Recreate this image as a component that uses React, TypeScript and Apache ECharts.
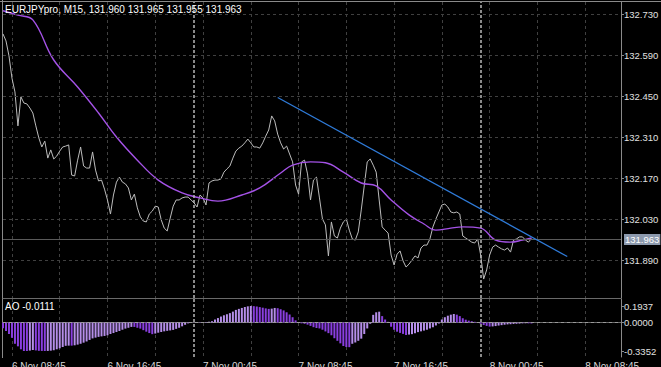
import React, { useEffect, useRef } from "react";
import * as echarts from "echarts";

const closeVals = [
  132.662, 132.638, 132.587, 132.511, 132.464, 132.348, 132.447, 132.426, 132.423, 132.409,
  132.392, 132.348, 132.307, 132.276, 132.296, 132.238, 132.266, 132.235, 132.245, 132.262,
  132.276, 132.279, 132.283, 132.180, 132.177, 132.231, 132.276, 132.211, 132.204, 132.204,
  132.259, 132.197, 132.160, 132.163, 132.132, 132.095, 132.047, 132.112, 132.156, 132.173,
  132.156, 132.150, 132.136, 132.095, 132.115, 132.068, 132.037, 132.023, 132.020, 132.047,
  132.057, 132.074, 132.071, 132.027, 131.999, 131.989, 132.033, 132.074, 132.095, 132.095,
  132.102, 132.105, 132.105, 132.095, 132.085, 132.071, 132.112, 132.102, 132.078, 132.153,
  132.160, 132.163, 132.163, 132.167, 132.190, 132.201, 132.211, 132.238, 132.262, 132.272,
  132.279, 132.290, 132.303, 132.290, 132.276, 132.276, 132.272, 132.290, 132.313, 132.334,
  132.382, 132.365, 132.320, 132.290, 132.269, 132.279, 132.252, 132.225, 132.146, 132.115,
  132.225, 132.231, 132.184, 132.095, 132.163, 132.173, 132.102, 132.030, 132.010, 131.904,
  132.020, 131.972, 131.965, 131.999, 132.020, 132.030, 131.992, 131.962, 131.958, 131.986,
  132.061, 132.143, 132.225, 132.235, 132.214, 132.190, 132.095, 132.003, 131.992, 131.982,
  131.907, 131.873, 131.910, 131.921, 131.887, 131.866, 131.876, 131.890, 131.904, 131.897,
  131.931, 131.941, 131.941, 131.962, 132.003, 132.030, 132.054, 132.078, 132.081, 132.071,
  132.054, 132.051, 132.054, 132.047, 131.972, 131.965, 131.958, 131.951, 131.948, 131.962,
  131.907, 131.825, 131.856, 131.907, 131.934, 131.941, 131.934, 131.928, 131.924, 131.931,
  131.917, 131.958, 131.962, 131.969, 131.969, 131.958, 131.951, 131.963,
];

const maIdx = [0, 5, 10, 17, 25, 32, 38, 45, 52, 60, 66, 72, 80, 86, 93, 97, 103, 108, 114, 120, 125, 130, 136, 141, 145, 150, 154, 160, 165, 170, 174, 177];
const maVals = [132.741, 132.726, 132.710, 132.573, 132.481, 132.392, 132.310, 132.231, 132.163, 132.119, 132.102, 132.091, 132.112, 132.136, 132.187, 132.214, 132.225, 132.222, 132.190, 132.153, 132.143, 132.095, 132.044, 132.013, 131.992, 131.999, 132.003, 131.999, 131.958, 131.951, 131.958, 131.965];

const aoVals = [
  -0.068, -0.1, -0.135, -0.18, -0.25, -0.28, -0.315, -0.335, -0.3352, -0.33,
  -0.323, -0.328, -0.333, -0.334, -0.335, -0.334, -0.331, -0.326, -0.315, -0.303,
  -0.288, -0.274, -0.272, -0.272, -0.268, -0.26, -0.25, -0.237, -0.223, -0.205,
  -0.187, -0.178, -0.169, -0.163, -0.158, -0.15, -0.135, -0.124, -0.112, -0.1,
  -0.085, -0.072, -0.062, -0.052, -0.052, -0.062, -0.072, -0.09, -0.108, -0.124,
  -0.137, -0.13, -0.12, -0.112, -0.104, -0.098, -0.093, -0.087, -0.075, -0.062,
  -0.045, -0.027, -0.01, -0.004, -0.002, 0.002, -0.003, 0.003, 0.005, 0.008,
  0.015, 0.035, 0.052, 0.07, 0.085, 0.097, 0.11, 0.128, 0.148, 0.16,
  0.171, 0.182, 0.19, 0.1937, 0.192, 0.188, 0.181, 0.174, 0.166, 0.16,
  0.163, 0.171, 0.168, 0.156, 0.142, 0.12, 0.094, 0.062, 0.025, -0.005,
  -0.01, -0.015, -0.025, -0.04, -0.055, -0.065, -0.07, -0.085, -0.105, -0.125,
  -0.15, -0.185, -0.215, -0.245, -0.276, -0.288, -0.29, -0.25, -0.235, -0.215,
  -0.19, -0.135, -0.07, -0.015, 0.09, 0.12, 0.127, 0.075, 0.035, 0.008,
  -0.05, -0.085, -0.108, -0.122, -0.134, -0.147, -0.142, -0.137, -0.125, -0.113,
  -0.104, -0.095, -0.085, -0.07, -0.056, -0.035, -0.012, 0.035, 0.062, 0.08,
  0.092, 0.1, 0.092, 0.075, 0.05, 0.033, 0.022, 0.015, 0.008, 0.002,
  -0.015, -0.03, -0.04, -0.048, -0.046, -0.042, -0.036, -0.031, -0.026, -0.022,
  -0.02, -0.017, -0.015, -0.013, -0.01, -0.009, -0.01, -0.0111,
];

const trendIdx = [92, 189];
const trendVals = [132.445, 131.902];

const priceTicks = [131.89, 132.03, 132.17, 132.31, 132.45, 132.59, 132.73];
const aoTicks = [-0.3352, 0, 0.1937];
const bidPrice = 131.963;
const daySeparators = [64, 160];
const titleText = "EURJPYpro, M15, 131.960 131.965 131.955 131.963";
const aoText = "AO -0.0111";

const SLOT_COUNT = 208;
const categories: string[] = [];
for (let i = 0; i < SLOT_COUNT; i++) {
  const total = 8 * 60 + 15 * i;
  const day = 6 + Math.floor(total / 1440);
  const rem = total % 1440;
  const hh = String(Math.floor(rem / 60)).padStart(2, "0");
  const mm = String(rem % 60).padStart(2, "0");
  categories.push(`${day} Nov ${hh}:${mm}`);
}

const FONT = "'Liberation Sans', Arial, sans-serif";

export default function App() {
  const ref = useRef<HTMLDivElement>(null);
  useEffect(() => {
    if (!ref.current) return;
    const chart = echarts.init(ref.current, undefined, { renderer: "svg" });
    const gridSplit = {
      show: true,
      interval: (i: number) => i % 16 === 3,
      lineStyle: { color: "#404040", type: [3, 3] as any, width: 1 },
    };
    const aoData = aoVals.map((v, i) => ({
      value: v,
      itemStyle: { color: i > 0 && v > aoVals[i - 1] ? "#b58ee9" : "#8a3fe0" },
    }));
    const option: any = {
      animation: false,
      backgroundColor: "#000000",
      textStyle: { fontFamily: FONT },
      grid: [
        { left: 3, right: 40, top: 2, height: 296, outerBoundsMode: "none" },
        { left: 3, right: 40, top: 299, height: 58, outerBoundsMode: "none" },
      ],
      xAxis: [
        {
          type: "category",
          gridIndex: 0,
          data: categories,
          boundaryGap: false,
          axisLine: { show: true, lineStyle: { color: "#6a6a6a" } },
          axisTick: { show: false },
          axisLabel: { show: false },
          splitLine: gridSplit,
        },
        {
          type: "category",
          gridIndex: 1,
          data: categories,
          boundaryGap: false,
          axisLine: { show: true, lineStyle: { color: "#6a6a6a" } },
          axisTick: { show: false },
          axisLabel: {
            show: true,
            interval: (i: number) => i % 32 === 3,
            align: "left",
            color: "#d8d8d8",
            fontSize: 10,
            fontFamily: FONT,
            margin: 4,
          },
          splitLine: gridSplit,
        },
      ],
      yAxis: [
        {
          type: "value",
          gridIndex: 0,
          position: "right",
          min: 131.7603,
          max: 132.771,
          axisLine: { show: true, lineStyle: { color: "#8a8a8a" } },
          axisTick: { show: true, length: 3, customValues: priceTicks, lineStyle: { color: "#8a8a8a" } },
          axisLabel: {
            show: true,
            customValues: priceTicks,
            formatter: (v: number) => v.toFixed(3),
            color: "#e0e0e0",
            fontSize: 9.5,
            fontFamily: FONT,
            margin: 3,
          },
          splitLine: { show: false },
        },
        {
          type: "value",
          gridIndex: 1,
          position: "right",
          min: -0.4054,
          max: 0.2761,
          axisLine: { show: true, lineStyle: { color: "#8a8a8a" } },
          axisTick: { show: true, length: 3, customValues: aoTicks, lineStyle: { color: "#8a8a8a" } },
          axisLabel: {
            show: true,
            customValues: aoTicks,
            formatter: (v: number) => v.toFixed(4),
            color: "#e0e0e0",
            fontSize: 9.5,
            fontFamily: FONT,
            margin: 3,
          },
          splitLine: { show: false },
        },
      ],
      series: [
        {
          name: "hgrid",
          type: "line",
          xAxisIndex: 0,
          yAxisIndex: 0,
          data: [],
          z: 1,
          silent: true,
          markLine: {
            silent: true,
            symbol: "none",
            label: { show: false },
            lineStyle: { color: "#404040", type: [3, 3], width: 1 },
            data: priceTicks.map((v) => ({ yAxis: v })),
          },
        },
        {
          name: "close",
          type: "line",
          xAxisIndex: 0,
          yAxisIndex: 0,
          data: closeVals,
          showSymbol: false,
          symbol: "none",
          z: 3,
          lineStyle: { color: "#bcbcbc", width: 1 },
          markLine: {
            silent: true,
            symbol: "none",
            data: [
              ...daySeparators.map((d) => ({
                xAxis: d,
                label: { show: false },
                lineStyle: { color: "#b8b8b8", type: [3, 2], width: 1.5 },
              })),
              {
                yAxis: bidPrice,
                lineStyle: { color: "#5a5a5a", type: "solid", width: 1 },
                label: {
                  show: true,
                  position: "end",
                  distance: 3,
                  formatter: bidPrice.toFixed(3),
                  backgroundColor: "#8c99ad",
                  color: "#ffffff",
                  fontSize: 9.5,
                  fontFamily: FONT,
                  padding: [1, 1, 0, 1],
                },
              },
            ],
          },
        },
        {
          name: "ma",
          type: "line",
          xAxisIndex: 0,
          yAxisIndex: 0,
          data: maIdx.map((x, k) => [x, maVals[k]]),
          smooth: 0.4,
          showSymbol: false,
          symbol: "none",
          z: 4,
          lineStyle: { color: "#a452e6", width: 1.4 },
        },
        {
          name: "trend",
          type: "line",
          xAxisIndex: 0,
          yAxisIndex: 0,
          data: trendIdx.map((x, k) => [x, trendVals[k]]),
          showSymbol: false,
          symbol: "none",
          z: 5,
          lineStyle: { color: "#2f7bd9", width: 1.3 },
        },
        {
          name: "AO",
          type: "bar",
          xAxisIndex: 1,
          yAxisIndex: 1,
          data: aoData,
          barWidth: 2,
          z: 3,
          markLine: {
            silent: true,
            symbol: "none",
            data: [
              { yAxis: 0, label: { show: false }, lineStyle: { color: "#9a9a9a", type: [3, 3], width: 1 } },
              ...daySeparators.map((d) => ({
                xAxis: d,
                label: { show: false },
                lineStyle: { color: "#b8b8b8", type: [3, 2], width: 1.5 },
              })),
            ],
          },
        },
      ],
      graphic: [
        { type: "line", shape: { x1: 2.5, y1: 0, x2: 2.5, y2: 358 }, style: { stroke: "#8a8a8a", lineWidth: 1 }, silent: true },
        { type: "line", shape: { x1: 0, y1: 1.5, x2: 661, y2: 1.5 }, style: { stroke: "#8a8a8a", lineWidth: 1 }, silent: true },
        {
          type: "text",
          left: 5,
          top: 4,
          style: { text: titleText, fill: "#ffffff", font: `10px ${FONT}` },
          silent: true,
          z: 10,
        },
        {
          type: "text",
          left: 5,
          top: 301,
          style: { text: aoText, fill: "#ffffff", font: `10px ${FONT}` },
          silent: true,
          z: 10,
        },
      ],
    };
    chart.setOption(option);
    return () => chart.dispose();
  }, []);
  return (
    <div
      ref={ref}
      style={{ position: "fixed", left: 0, top: 0, width: 661, height: 367, background: "#000" }}
    />
  );
}
